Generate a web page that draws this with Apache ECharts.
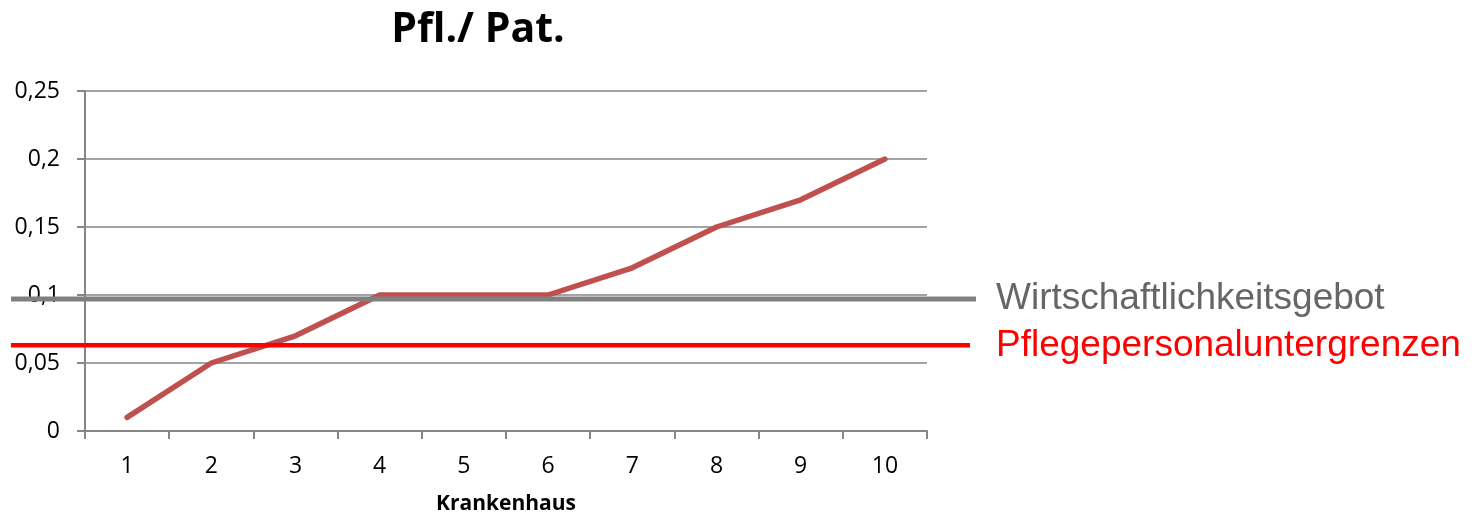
<!DOCTYPE html>
<html>
<head>
<meta charset="utf-8">
<script src="https://cdn.jsdelivr.net/npm/echarts@6/dist/echarts.min.js"></script>
<style>
  html, body { margin: 0; padding: 0; background: #fff; }
  #chart { width: 1479px; height: 517px; }
</style>
</head>
<body>
<div id="chart"></div>
<script>
// Krankenhaus 1..10
var categories = ['1', '2', '3', '4', '5', '6', '7', '8', '9', '10']
var pflPat = [0.01, 0.05, 0.07, 0.1, 0.1, 0.1, 0.12, 0.15, 0.17, 0.2]
var yTicks = [0, 0.05, 0.1, 0.15, 0.2, 0.25]

// reference levels
var wirtschaftlichkeit = 0.097
var untergrenze = 0.063

var dom = echarts.init(document.getElementById('chart'))

function fmt (v) {
  return String(v).replace('.', ',')
}

function hiddenAxes (idx) {
  return {
    x: { type: 'value', gridIndex: idx, min: 0, max: 1, show: false },
    y: { type: 'value', gridIndex: idx, min: yTicks[0], max: yTicks[yTicks.length - 1], show: false }
  }
}

var a1 = hiddenAxes(1)
var a2 = hiddenAxes(2)

var option = {
  backgroundColor: '#fff',
  animation: false,
  title: {
    text: 'Pfl./ Pat.',
    left: 473,
    top: 5,
    textAlign: 'center',
    textStyle: { fontFamily: 'Open Sans', fontWeight: 'bold', fontSize: 41, color: '#000' }
  },
  grid: [
    { left: 85, right: 552, top: 91, bottom: 86, outerBoundsMode: 'none' },
    { left: 11, right: 503, top: 91, bottom: 86, outerBoundsMode: 'none' },
    { left: 11, right: 509, top: 91, bottom: 86, outerBoundsMode: 'none' }
  ],
  xAxis: [
    {
      type: 'category',
      gridIndex: 0,
      data: categories,
      boundaryGap: true,
      name: 'Krankenhaus',
      nameLocation: 'middle',
      nameGap: 63,
      nameTextStyle: { fontFamily: 'Open Sans', fontWeight: 'bold', fontSize: 21, color: '#000' },
      axisLine: { lineStyle: { color: '#868686', width: 2 } },
      axisTick: { show: true, length: 8, lineStyle: { color: '#868686', width: 2 } },
      axisLabel: { margin: 24, fontFamily: 'Open Sans', fontSize: 23, color: '#000' }
    },
    a1.x, a2.x
  ],
  yAxis: [
    {
      type: 'value',
      gridIndex: 0,
      min: 0,
      max: 0.25,
      interval: 0.05,
      axisLine: { show: true, lineStyle: { color: '#868686', width: 2 } },
      axisTick: { show: true, length: 8, lineStyle: { color: '#868686', width: 2 } },
      splitLine: { lineStyle: { color: '#868686', width: 1.5 } },
      axisLabel: { margin: 25, fontFamily: 'Open Sans', fontSize: 23, color: '#000', formatter: fmt }
    },
    a1.y, a2.y
  ],
  series: [
    {
      name: 'Pfl./ Pat.',
      type: 'line',
      xAxisIndex: 0,
      yAxisIndex: 0,
      data: pflPat,
      symbol: 'none',
      lineStyle: { color: '#C0504D', width: 5.5, cap: 'round' },
      z: 3
    },
    {
      name: 'Wirtschaftlichkeitsgebot',
      type: 'line',
      xAxisIndex: 1,
      yAxisIndex: 1,
      data: [[0, wirtschaftlichkeit], [1, wirtschaftlichkeit]],
      symbol: 'none',
      clip: false,
      lineStyle: { color: '#808080', width: 5 },
      endLabel: {
        show: true,
        distance: 20,
        formatter: '{a}',
        fontFamily: 'Liberation Sans',
        fontSize: 37,
        color: '#666666'
      },
      z: 5
    },
    {
      name: 'Pflegepersonaluntergrenzen',
      type: 'line',
      xAxisIndex: 2,
      yAxisIndex: 2,
      data: [[0, untergrenze], [1, untergrenze]],
      symbol: 'none',
      clip: false,
      lineStyle: { color: '#FF0000', width: 4.5 },
      endLabel: {
        show: true,
        distance: 26,
        formatter: '{a}',
        fontFamily: 'Liberation Sans',
        fontSize: 37,
        color: '#FF0000'
      },
      z: 5
    }
  ]
}

dom.setOption(option)
window.addEventListener('resize', function () { dom.resize() })
</script>
</body>
</html>
